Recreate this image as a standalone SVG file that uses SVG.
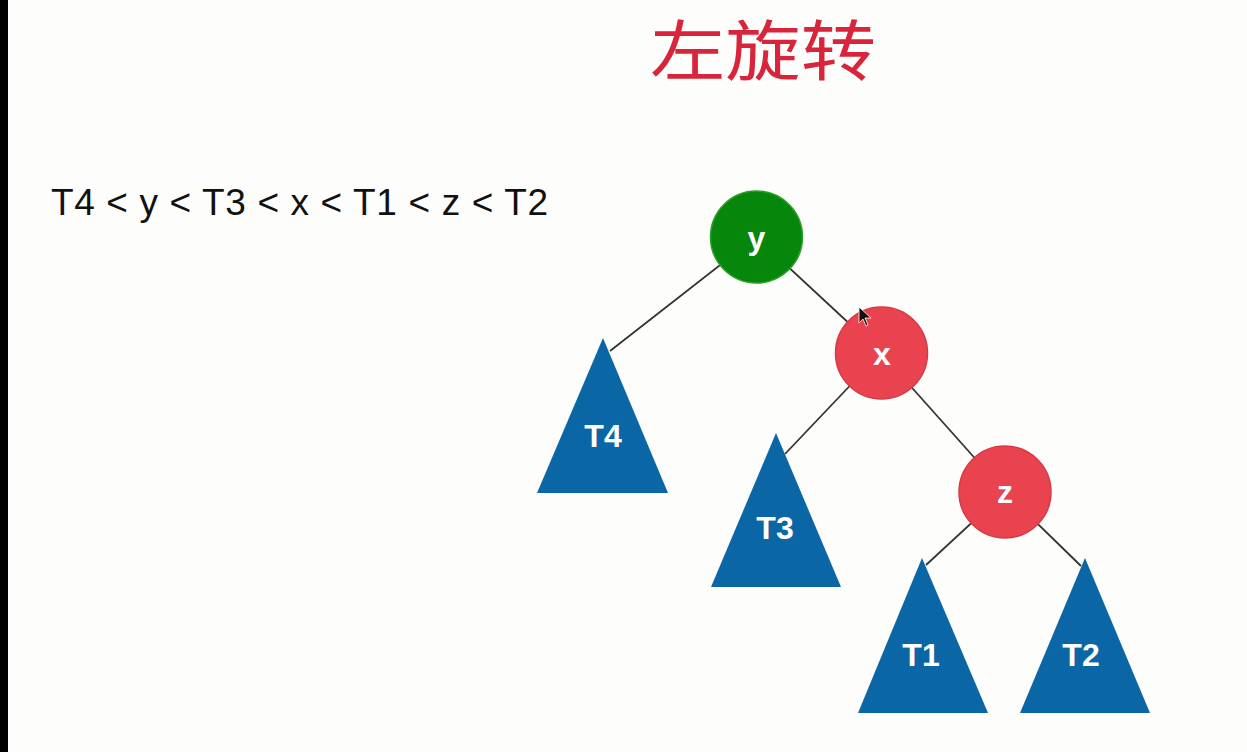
<svg xmlns="http://www.w3.org/2000/svg" width="1247" height="752" viewBox="0 0 1247 752">
<style>
.edge{stroke:#333333;stroke-width:1.8;fill:none}
.tri{fill:#0b66a6}
.red{fill:#e8434f;stroke:#d53a46;stroke-width:1.5}
.green{fill:#07860c;stroke:#2aa02a;stroke-width:1.5}
.lbl{font-family:"Liberation Sans",Arial,sans-serif;font-weight:bold;fill:#ffffff;text-anchor:middle}
.tl{font-size:32px}
.nl{font-size:32px}
</style>
<rect x="0" y="0" width="1247" height="752" fill="#fdfdfb"/>
<rect x="0" y="0" width="8" height="752" fill="#000000"/>
<text x="650" y="75" font-family="'Noto Sans CJK SC',sans-serif" font-size="66" font-weight="400" fill="#d8253b" textLength="226" lengthAdjust="spacingAndGlyphs">左旋转</text>
<text x="51" y="215" font-family="'Liberation Sans',Arial,sans-serif" font-size="37" fill="#111111" textLength="497" lengthAdjust="spacing">T4 &lt; y &lt; T3 &lt; x &lt; T1 &lt; z &lt; T2</text>
<g id="connectors">
<line class="edge" x1="756" y1="237" x2="610" y2="351"/>
<line class="edge" x1="756" y1="237" x2="881" y2="353"/>
<line class="edge" x1="881" y1="353" x2="785" y2="454"/>
<line class="edge" x1="881" y1="353" x2="1005" y2="492"/>
<line class="edge" x1="1005" y1="492" x2="926" y2="565"/>
<line class="edge" x1="1005" y1="492" x2="1081" y2="566"/>
</g>
<g id="T4"><polygon class="tri" points="603,338 668,493 537,493"/><text class="lbl tl" x="603" y="447">T4</text></g>
<g id="T3"><polygon class="tri" points="776,433 841,587 711,587"/><text class="lbl tl" x="775" y="539">T3</text></g>
<g id="T1"><polygon class="tri" points="922,558 988,713 858,713"/><text class="lbl tl" x="921" y="666">T1</text></g>
<g id="T2"><polygon class="tri" points="1085,558 1150,713 1020,713"/><text class="lbl tl" x="1081" y="666">T2</text></g>
<g id="y"><circle class="green" cx="756.5" cy="237" r="46"/><text class="lbl nl" x="756.5" y="249">y</text></g>
<g id="x"><circle class="red" cx="881.5" cy="353" r="46"/><text class="lbl nl" x="882" y="365">x</text></g>
<g id="z"><circle class="red" cx="1005" cy="492" r="46"/><text class="lbl nl" x="1005" y="503">z</text></g>
<path d="M859,307 L859,323 L863,319 L866,326 L868,325 L865,318 L871,318 Z" fill="#111" stroke="#fff" stroke-width="0.8"/>
</svg>
